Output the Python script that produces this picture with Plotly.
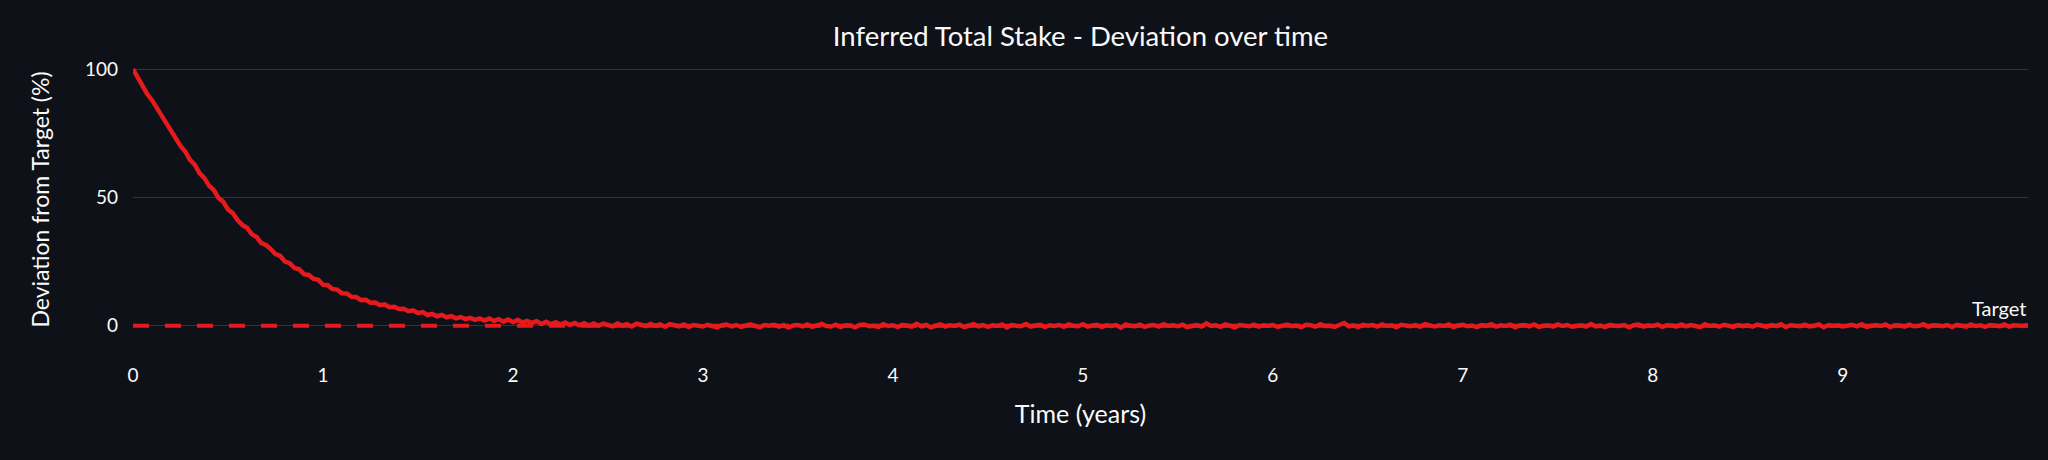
import plotly.graph_objects as go

# Time step index (years) - one sample every 0.025 years
time_years = [round(i * 0.025, 3) for i in range(400)]

# Deviation from target (%), decay part (t = 0 .. 2.475)
decay_part = [
    100.0, 96.6, 94.1, 90.3, 87.9, 85.0, 81.4, 79.2, 75.8, 73.5,
    70.1, 67.9, 64.6, 62.8, 59.5, 57.6, 54.6, 52.9, 49.8, 48.3,
    45.3, 43.9, 41.2, 39.3, 38.2, 35.7, 34.6, 32.2, 31.5, 29.9,
    27.9, 27.2, 25.0, 24.4, 22.5, 22.0, 20.1, 19.8, 18.3, 17.9,
    16.0, 15.8, 14.3, 14.1, 12.7, 12.6, 11.3, 11.2, 10.0, 10.1,
    9.0, 9.1, 8.0, 8.3, 7.2, 7.4, 6.5, 6.6, 5.7, 6.0,
    4.9, 5.3, 4.2, 4.6, 3.7, 4.2, 3.3, 3.8, 2.9, 3.4,
    2.6, 3.1, 2.3, 2.9, 2.0, 2.8, 1.9, 2.6, 1.6, 2.4,
    1.4, 2.3, 1.2, 1.9, 1.1, 1.8, 0.7, 1.6, 0.6, 1.4,
    0.5, 1.3, 0.3, 1.1, 0.2, 1.0, 0.1, 0.9, 0.0, 0.8,
]

# Deviation from target (%), settled part (t = 2.5 .. 9.975)
settled_part = [
    0.4, -0.2, 0.9, 0.1, 0.6, -0.3, 0.8, 0.2, -0.1, 0.7, 0.0, 0.5, -0.4, 0.6, 0.1, -0.2, 0.5, -0.5, 0.3, 0.2,
    -0.3, 0.4, 0.1, -0.6, 0.2, 0.5, -0.2, 0.3, -0.4, 0.1, 0.6, -0.1, -0.5, 0.3, 0.0, 0.4, -0.3, 0.2, -0.7, 0.1,
    0.3, -0.2, 0.5, -0.4, 0.0, 0.7, -0.1, -0.3, 0.4, -0.5, 0.2, 0.1, -0.6, 0.3, 0.5, -0.2, 0.0, -0.4, 0.6, -0.1,
    0.2, -0.5, 0.4, 0.1, -0.3, 0.8, -0.2, 0.3, -0.6, 0.0, 0.5, -0.3, 0.2, -0.1, 0.4, -0.5, 0.1, 0.6, -0.2, 0.3,
    -0.4, 0.2, -0.1, 0.5, -0.6, 0.3, 0.0, -0.2, 0.7, -0.3, 0.1, 0.4, -0.5, 0.2, -0.1, 0.3, -0.4, 0.5, 0.0, -0.2,
    0.6, -0.3, 0.1, 0.4, -0.5, 0.2, -0.1, 0.3, -0.7, 0.5, 0.0, -0.2, 0.4, -0.4, 0.1, 0.3, -0.3, 0.6, -0.1, 0.2,
    -0.2, 0.4, -0.5, 0.1, 0.3, -0.3, 0.9, -0.1, 0.2, -0.4, 0.5, 0.0, -0.6, 0.3, 0.1, -0.2, 0.4, -0.3, 0.2, -0.1,
    0.3, -0.4, 0.0, 0.5, -0.2, 0.1, -0.5, 0.4, 0.2, -0.3, 0.6, -0.1, 0.0, -0.4, 0.3, 1.1, -0.2, 0.1, -0.5, 0.4,
    0.0, 0.3, -0.3, 0.5, -0.1, 0.2, -0.6, 0.4, 0.1, -0.2, 0.3, -0.4, 0.6, 0.0, -0.3, 0.2, -0.1, 0.5, -0.5, 0.1,
    0.4, -0.2, 0.1, -0.5, 0.3, 0.0, 0.6, -0.3, 0.2, -0.1, 0.4, -0.6, 0.1, 0.3, -0.2, 0.5, -0.4, 0.0, 0.2, -0.3,
    0.5, -0.1, 0.3, -0.4, 0.0, 0.2, -0.3, 0.7, -0.2, 0.1, -0.5, 0.4, 0.0, -0.1, 0.3, -0.6, 0.2, 0.5, -0.3, 0.1,
    -0.1, 0.4, -0.4, 0.2, 0.1, -0.3, 0.5, -0.2, 0.3, 0.0, -0.5, 0.6, -0.1, 0.2, -0.3, 0.4, 0.1, -0.4, 0.3, -0.2,
    0.2, -0.3, 0.5, 0.0, -0.4, 0.3, -0.1, 0.6, -0.5, 0.2, 0.1, -0.2, 0.4, -0.3, 0.0, 0.5, -0.6, 0.3, -0.1, 0.2,
    -0.3, 0.1, 0.4, -0.2, 0.6, -0.4, 0.0, 0.3, -0.1, 0.5, -0.5, 0.2, 0.1, -0.3, 0.4, -0.2, 0.0, 0.6, -0.4, 0.2,
    0.1, -0.2, 0.3, -0.5, 0.4, 0.0, -0.3, 0.5, -0.1, 0.2, -0.4, 0.3, 0.1, -0.2, 0.5, -0.3, 0.2, 0.0, -0.1, 0.3,
]

deviation = decay_part + settled_part
target_value = 0
x_ticks = [0, 1, 2, 3, 4, 5, 6, 7, 8, 9]
y_ticks = [0, 50, 100]

RED = "#e41a1c"
BG = "#0e1117"
TXT = "#fafafa"
GRID = "#31333f"
FONT = "Lato"

fig = go.Figure()
fig.add_trace(go.Scatter(
    x=time_years, y=deviation, mode="lines",
    line=dict(color=RED, width=4.5), showlegend=False,
))

fig.add_hline(
    y=target_value, line=dict(color=RED, width=4, dash="16px,16px"),
    annotation_text="Target", annotation_position="top right",
    annotation_font=dict(color=TXT, size=20, family=FONT),
    annotation_yshift=4,
)

fig.update_layout(
    width=2048, height=460,
    paper_bgcolor=BG, plot_bgcolor=BG,
    margin=dict(l=133, r=20, t=55, b=116),
    font=dict(family=FONT, color=TXT, size=19),
    title=dict(text="Inferred Total Stake - Deviation over time",
               x=0.5, xref="paper", xanchor="center",
               y=0.922, yref="container", yanchor="middle",
               font=dict(size=27.5, family=FONT, color=TXT)),
    xaxis=dict(
        title=dict(text="Time (years)", font=dict(size=25, family=FONT), standoff=20),
        tickvals=x_ticks, showgrid=False, zeroline=False, showline=False,
        range=[0, 9.975], ticklabelstandoff=18,
        tickfont=dict(size=19, family=FONT),
    ),
    yaxis=dict(
        title=dict(text="Deviation from Target (%)", font=dict(size=23, family=FONT), standoff=28),
        tickvals=y_ticks, showgrid=True, gridcolor=GRID, gridwidth=1,
        zeroline=True, zerolinecolor=GRID, zerolinewidth=1, showline=False,
        range=[-7.1, 105.5], ticklabelstandoff=14,
        tickfont=dict(size=19, family=FONT),
    ),
)

fig.write_html("out.html")
